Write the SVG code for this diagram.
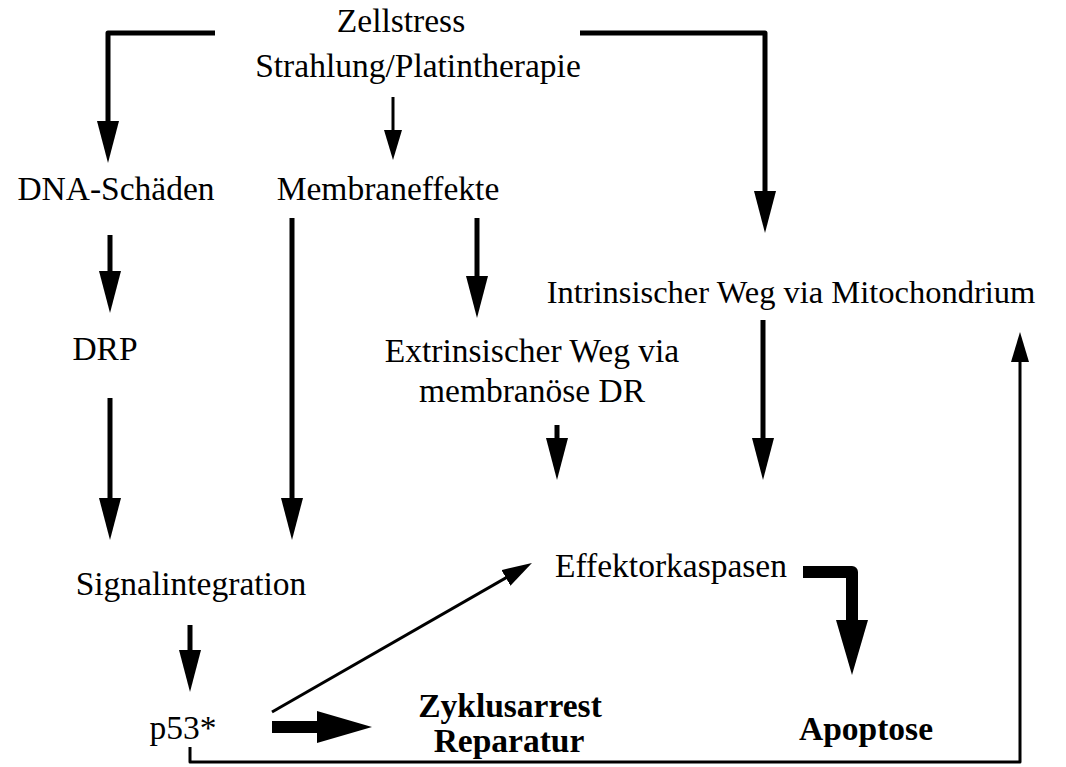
<svg xmlns="http://www.w3.org/2000/svg" width="1066" height="767" viewBox="0 0 1066 767">
<style>
.t{font-family:"Liberation Serif","Times New Roman",serif;font-size:33.5px;fill:#000;text-anchor:middle}
.b{font-weight:bold}
.c{fill:none;stroke:#000;stroke-linejoin:round}
.w5{stroke-width:5}
.w3{stroke-width:3}
.w12{stroke-width:12}
</style>
<defs>
<marker id="hm" markerUnits="userSpaceOnUse" markerWidth="42" markerHeight="22" refX="4" refY="11" orient="auto" viewBox="0 0 42 22"><path d="M0,0 L42,11 L0,22 z" fill="#000"/></marker>
<marker id="hs" markerUnits="userSpaceOnUse" markerWidth="30" markerHeight="18" refX="4" refY="9" orient="auto" viewBox="0 0 30 18"><path d="M0,0 L30,9 L0,18 z" fill="#000"/></marker>
<marker id="hl" markerUnits="userSpaceOnUse" markerWidth="55" markerHeight="32" refX="5" refY="16" orient="auto" viewBox="0 0 55 32"><path d="M0,0 L55,16 L0,32 z" fill="#000"/></marker>
</defs>
<g id="connectors">
<path class="c w5" d="M215,33 H108 V125" marker-end="url(#hm)"/>
<path class="c w3" d="M393,97 V134" marker-end="url(#hs)"/>
<path class="c w5" d="M580,33 H765 V195" marker-end="url(#hm)"/>
<path class="c w5" d="M110,235 V275" marker-end="url(#hm)"/>
<path class="c w5" d="M292,218 V502" marker-end="url(#hm)"/>
<path class="c w5" d="M477,218 V280" marker-end="url(#hm)"/>
<path class="c w5" d="M110,398 V502" marker-end="url(#hm)"/>
<path class="c w5" d="M557,425 V442" marker-end="url(#hm)"/>
<path class="c w5" d="M763,320 V442" marker-end="url(#hm)"/>
<path class="c w12" d="M803,572 H852 V625" marker-end="url(#hl)"/>
<path class="c w5" d="M190,625 V654" marker-end="url(#hm)"/>
<path class="c w3" d="M272,712 L509.4,575.9" marker-end="url(#hs)"/>
<path class="c w12" d="M272,727 H322" marker-end="url(#hl)"/>
<path class="c w3" d="M190,747 V762 H1020 V358" marker-end="url(#hs)"/>
</g>
<g id="n-zellstress"><text class="t" x="401" y="32">Zellstress</text><text class="t" x="418" y="77">Strahlung/Platintherapie</text></g>
<g id="n-dna"><text class="t" x="116" y="200">DNA-Schäden</text></g>
<g id="n-membran"><text class="t" x="388" y="200">Membraneffekte</text></g>
<g id="n-intrinsisch"><text class="t" x="791" y="303" style="font-size:32.5px">Intrinsischer Weg via Mitochondrium</text></g>
<g id="n-drp"><text class="t" x="105" y="360">DRP</text></g>
<g id="n-extrinsisch"><text class="t" x="532" y="362">Extrinsischer Weg via</text><text class="t" x="532" y="402">membranöse DR</text></g>
<g id="n-effektor"><text class="t" x="671" y="577">Effektorkaspasen</text></g>
<g id="n-signal"><text class="t" x="191" y="595">Signalintegration</text></g>
<g id="n-p53"><text class="t" x="183" y="739">p53*</text></g>
<g id="n-zyklus"><text class="t b" x="510" y="717">Zyklusarrest</text><text class="t b" x="509" y="752">Reparatur</text></g>
<g id="n-apoptose"><text class="t b" x="866" y="740">Apoptose</text></g>
</svg>
